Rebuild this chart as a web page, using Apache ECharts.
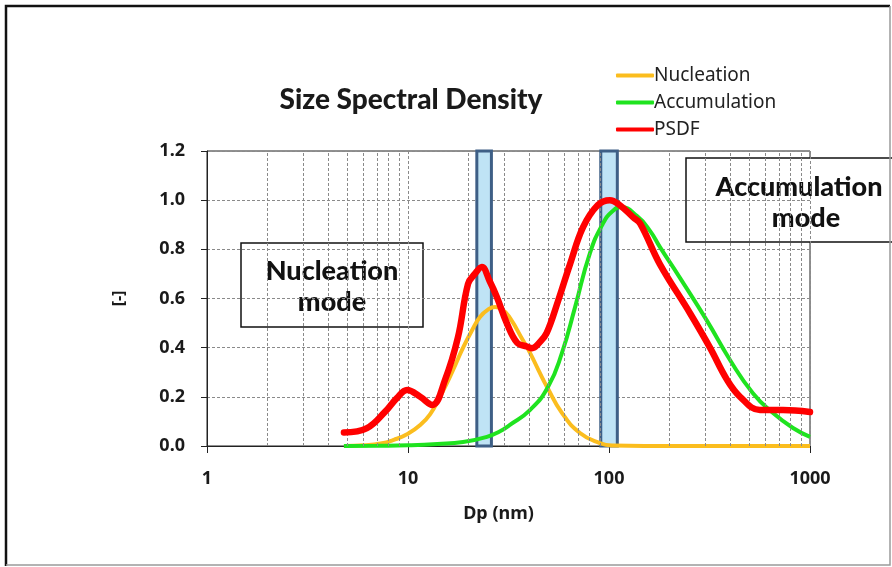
<!DOCTYPE html>
<html>
<head>
<meta charset="utf-8">
<script src="https://cdn.jsdelivr.net/npm/echarts@6/dist/echarts.min.js"></script>
<style>
  html, body { margin: 0; padding: 0; background: #ffffff; }
  #chart { width: 892px; height: 567px; }
</style>
</head>
<body>
<div id="chart"></div>
<script>
// Particle diameters (nm) and normalised spectral density for each curve
const nucDp   = [4.8, 6, 7.3, 8.5, 10, 11.5, 12.9, 14.2, 15.6, 17.2, 18.8, 20.8, 22.8, 25, 27.1, 29.5, 32.2, 37.3, 40.4, 44.5, 49.2, 58.4, 71.7, 90, 105, 150, 300, 600, 1000];
const nucVals = [0, 0.003, 0.01, 0.025, 0.05, 0.085, 0.13, 0.19, 0.255, 0.33, 0.40, 0.47, 0.525, 0.555, 0.565, 0.555, 0.52, 0.43, 0.38, 0.31, 0.24, 0.134, 0.053, 0.012, 0.002, 0, 0, 0, 0];

const accDp   = [4.8, 7, 10, 14, 18.8, 24.7, 28.7, 32, 40.4, 49.7, 58.4, 67.8, 80.4, 93.3, 104, 115, 138, 160, 179, 225, 307, 400, 520, 655, 823, 1000];
const accVals = [0, 0.001, 0.003, 0.008, 0.016, 0.037, 0.06, 0.085, 0.146, 0.24, 0.38, 0.565, 0.785, 0.905, 0.955, 0.972, 0.935, 0.875, 0.81, 0.685, 0.51, 0.35, 0.215, 0.134, 0.073, 0.037];

const psdfDp   = [4.8, 6.25, 7.7, 8.8, 9.9, 11.5, 13.2, 15.3, 17.7, 19.9, 21.5, 23.3, 25.5, 27.7, 31, 34.9, 39, 41.4, 45, 49, 55.8, 64, 74.3, 88, 101, 113, 132, 143, 179, 253, 318, 386, 449, 564, 734, 1000];
const psdfVals = [0.055, 0.073, 0.14, 0.195, 0.228, 0.2, 0.167, 0.27, 0.44, 0.66, 0.7, 0.728, 0.67, 0.605, 0.5, 0.42, 0.405, 0.398, 0.42, 0.46, 0.59, 0.74, 0.89, 0.98, 1.0, 0.98, 0.93, 0.905, 0.74, 0.54, 0.40, 0.27, 0.2, 0.146, 0.146, 0.138];

// Highlighted size bands around the two mode peaks (nm)
const modeBands = [[22, 26], [91, 110]];

// Intermediate log-decade gridline positions
const minorGrid = [2, 3, 4, 5, 6, 7, 8, 9, 20, 30, 40, 50, 60, 70, 80, 90, 200, 300, 400, 500, 600, 700, 800, 900];

const seriesNames = ['Nucleation', 'Accumulation', 'PSDF'];
const yTicks = [0, 0.2, 0.4, 0.6, 0.8, 1.0, 1.2];

const pairs = (xs, ys) => xs.map((x, i) => [x, ys[i]]);

const chart = echarts.init(document.getElementById('chart'), null, { renderer: 'canvas' });

const gridDash = { type: [3, 2], color: '#8a8a8a', width: 1 };
const boxText = { textAlign: 'center', textVerticalAlign: 'middle', fontFamily: 'Lato', fontWeight: 900, fontSize: 27, fill: '#111' };

chart.setOption({
  backgroundColor: '#ffffff',
  animation: false,
  title: {
    text: 'Size Spectral Density',
    left: 406, top: 81, textAlign: 'center',
    textStyle: { fontFamily: 'Lato', fontWeight: 900, fontSize: 28, color: '#1a1a1a' }
  },
  legend: {
    data: seriesNames,
    orient: 'vertical',
    left: 611, top: 61,
    itemWidth: 38, itemHeight: 4, itemGap: 8,
    icon: 'roundRect',
    textStyle: { fontFamily: 'Noto Sans', fontSize: 19, color: '#222', padding: [0, 0, 0, -5] }
  },
  grid: {
    left: 207, right: 82, top: 151, bottom: 121,
    show: true, borderColor: '#222', borderWidth: 1
  },
  xAxis: {
    type: 'log', logBase: 10, min: 1, max: 1000,
    name: 'Dp (nm)', nameLocation: 'middle', nameGap: 59,
    nameTextStyle: { fontFamily: 'Noto Sans', fontWeight: 'bold', fontSize: 18, color: '#1a1a1a', padding: [0, 20, 0, 0] },
    axisLine: { lineStyle: { color: '#222', width: 1 } },
    axisTick: { show: true, length: 7, lineStyle: { color: '#222' } },
    axisLabel: {
      margin: 24, fontFamily: 'Noto Sans', fontWeight: 'bold', fontSize: 18, color: '#1a1a1a',
      formatter: v => String(Math.round(v))
    },
    splitLine: { show: true, lineStyle: gridDash }
  },
  yAxis: {
    type: 'value', min: 0, max: 1.2, interval: 0.2,
    name: '[-]', nameLocation: 'middle', nameGap: 80, nameRotate: 90,
    nameTextStyle: { fontFamily: 'Noto Sans', fontWeight: 'bold', fontSize: 16, color: '#1a1a1a' },
    axisLine: { show: true, lineStyle: { color: '#222', width: 1 } },
    axisTick: { show: true, length: 6, lineStyle: { color: '#222' } },
    axisLabel: {
      margin: 22, fontFamily: 'Noto Sans', fontWeight: 'bold', fontSize: 18, color: '#1a1a1a',
      formatter: v => yTicks.includes(Math.round(v * 10) / 10) ? v.toFixed(1) : ''
    },
    splitLine: { show: true, lineStyle: gridDash }
  },
  series: [
    {
      // carrier for the minor gridlines and mode bands, drawn beneath the curves
      name: 'bands', type: 'line', data: [[1, 0]], z: 1,
      symbol: 'none', lineStyle: { opacity: 0 }, silent: true,
      markLine: {
        silent: true, symbol: 'none', label: { show: false },
        lineStyle: gridDash,
        data: minorGrid.map(v => ({ xAxis: v }))
      },
      markArea: {
        silent: true,
        itemStyle: { color: '#bfe3f5', borderColor: '#3e5f86', borderWidth: 3 },
        data: modeBands.map(b => [{ xAxis: b[0], yAxis: 0 }, { xAxis: b[1], yAxis: 1.2 }])
      }
    },
    {
      name: 'Nucleation', type: 'line', z: 3,
      data: pairs(nucDp, nucVals),
      smooth: 0.5, symbol: 'none',
      itemStyle: { color: '#fbbd1e' },
      lineStyle: { color: '#fbbd1e', width: 4 }
    },
    {
      name: 'Accumulation', type: 'line', z: 4,
      data: pairs(accDp, accVals),
      smooth: 0.5, symbol: 'none',
      itemStyle: { color: '#1fe31f' },
      lineStyle: { color: '#1fe31f', width: 4 }
    },
    {
      name: 'PSDF', type: 'line', z: 5,
      data: pairs(psdfDp, psdfVals),
      smooth: 0.4, symbol: 'none',
      itemStyle: { color: '#ff0000' },
      lineStyle: { color: '#ff0000', width: 6.5, cap: 'round', join: 'round' }
    }
  ],
  graphic: [
    // outer frame
    { type: 'polyline', z: 100, shape: { points: [[6, 566], [6, 6], [890, 6]] }, style: { stroke: '#111', lineWidth: 2.5, fill: null } },
    { type: 'polyline', z: 100, shape: { points: [[890, 6], [890, 565], [6, 565]] }, style: { stroke: '#9a9a9a', lineWidth: 1.5, fill: null } },
    // mode annotation boxes
    {
      type: 'group', z: 50, children: [
        { type: 'rect', shape: { x: 241, y: 243, width: 182, height: 84 }, style: { fill: '#ffffff', stroke: '#111', lineWidth: 1.5 } },
        { type: 'text', style: Object.assign({ x: 332, y: 271, text: 'Nucleation' }, boxText) },
        { type: 'text', style: Object.assign({ x: 332, y: 302, text: 'mode' }, boxText) }
      ]
    },
    {
      type: 'group', z: 50, children: [
        { type: 'rect', shape: { x: 686, y: 158, width: 230, height: 84 }, style: { fill: '#ffffff', stroke: '#111', lineWidth: 1.5 } },
        { type: 'text', style: Object.assign({ x: 799, y: 187, text: 'Accumulation' }, boxText) },
        { type: 'text', style: Object.assign({ x: 806, y: 218, text: 'mode' }, boxText) }
      ]
    }
  ]
});
</script>
</body>
</html>
